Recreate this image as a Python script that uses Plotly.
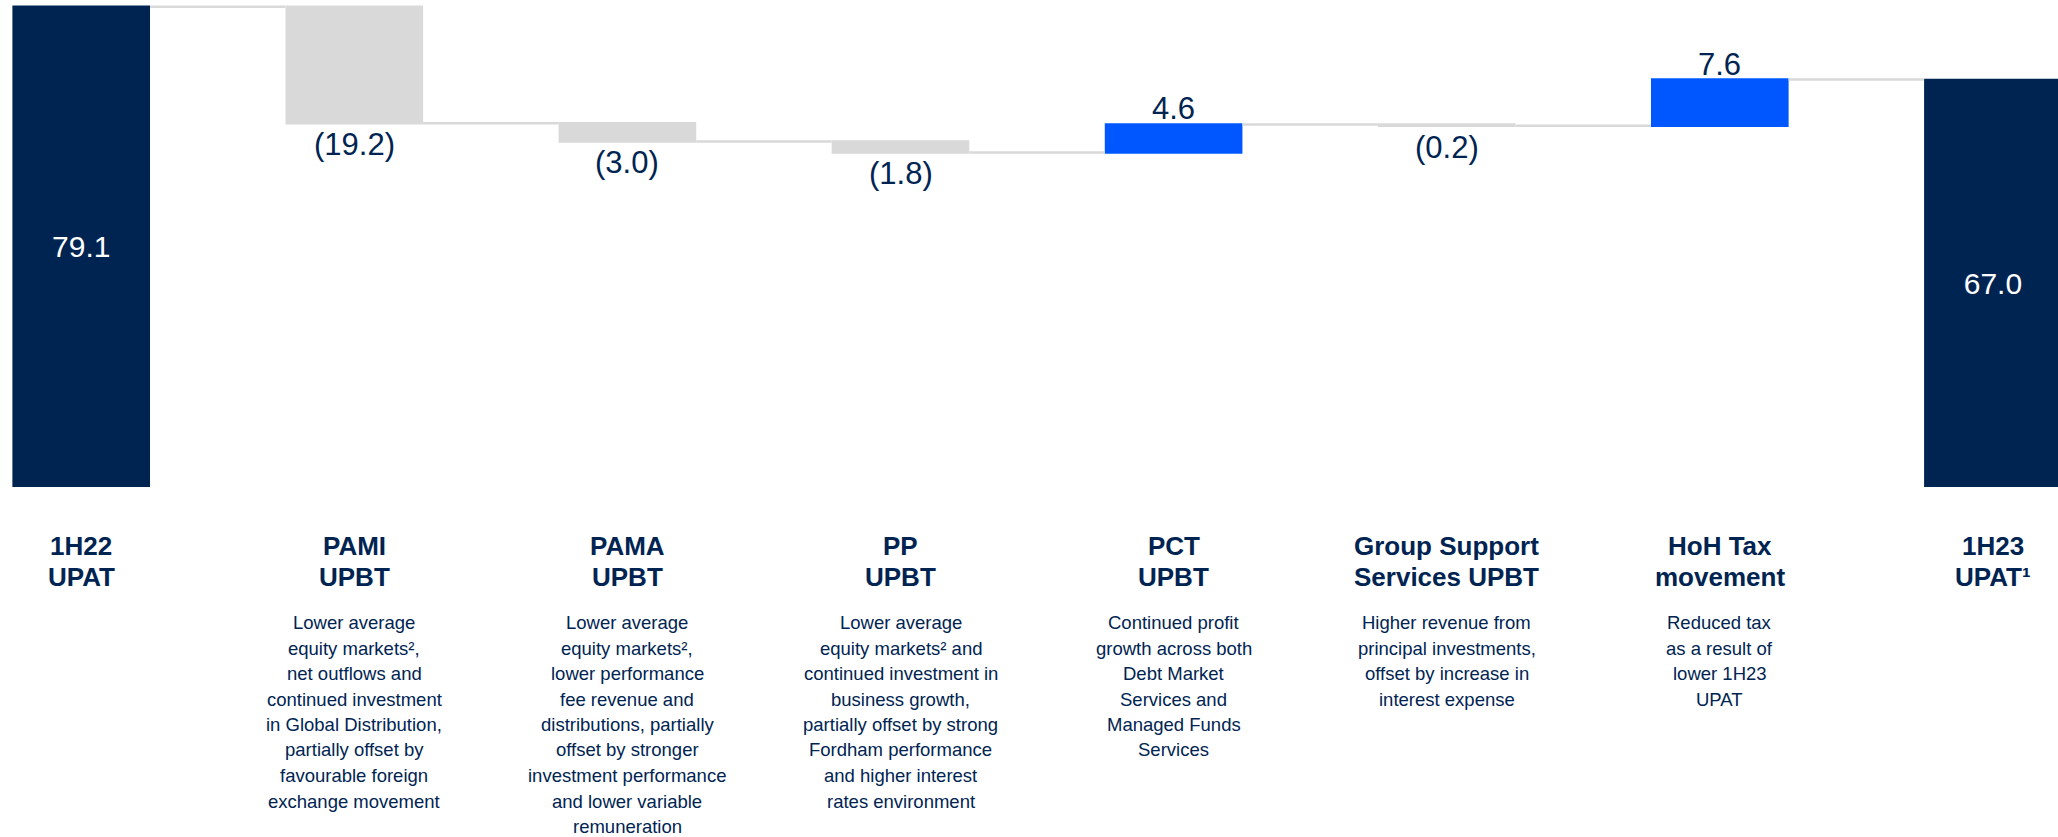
import plotly.graph_objects as go

# ---- data ----
categories = ["1H22 UPAT", "PAMI UPBT", "PAMA UPBT", "PP UPBT", "PCT UPBT",
              "Group Support Services UPBT", "HoH Tax movement", "1H23 UPAT"]
values = [79.1, -19.2, -3.0, -1.8, 4.6, -0.2, 7.6, 67.0]
measures = ["absolute", "relative", "relative", "relative", "relative",
            "relative", "relative", "absolute"]

label_lines = [
    ["1H22", "UPAT"],
    ["PAMI", "UPBT"],
    ["PAMA", "UPBT"],
    ["PP", "UPBT"],
    ["PCT", "UPBT"],
    ["Group Support", "Services UPBT"],
    ["HoH Tax", "movement"],
    ["1H23", "UPAT¹"],
]

desc_lines = [
    [],
    ["Lower average", "equity markets²,", "net outflows and", "continued investment",
     "in Global Distribution,", "partially offset by", "favourable foreign",
     "exchange movement"],
    ["Lower average", "equity markets²,", "lower performance", "fee revenue and",
     "distributions, partially", "offset by stronger", "investment performance",
     "and lower variable", "remuneration"],
    ["Lower average", "equity markets² and", "continued investment in",
     "business growth,", "partially offset by strong", "Fordham performance",
     "and higher interest", "rates environment"],
    ["Continued profit", "growth across both", "Debt Market", "Services and",
     "Managed Funds", "Services"],
    ["Higher revenue from", "principal investments,", "offset by increase in",
     "interest expense"],
    ["Reduced tax", "as a result of", "lower 1H23", "UPAT"],
    [],
]

NAVY = "#002452"
BLUE = "#0057FF"
GREY = "#D9D9D9"
FONT = "Arial, Liberation Sans, sans-serif"

W, H = 2058, 837
PLOT_H = 487                  # pixel position of the zero line
PX_PER_UNIT = 6.073
STEP = 273.1
X0 = 81.2                     # centre of first bar in pixels


def fmt(v):
    return f"({abs(v):.1f})" if v < 0 else f"{v:.1f}"


texts = [fmt(v) if m == "absolute" else "" for v, m in zip(values, measures)]
textpos = ["inside" if m == "absolute" else "none" for m in measures]

fig = go.Figure(go.Waterfall(
    x=list(range(len(categories))),
    y=values,
    measure=measures,
    text=texts,
    textposition=textpos,
    insidetextanchor="middle",
    insidetextfont=dict(family=FONT, size=30, color="white"),
    constraintext="none",
    cliponaxis=False,
    width=0.504,
    increasing=dict(marker=dict(color=BLUE)),
    decreasing=dict(marker=dict(color=GREY)),
    totals=dict(marker=dict(color=NAVY)),
    connector=dict(line=dict(color=GREY, width=2.5), mode="between"),
    hovertext=categories,
))


def paper_y(py):
    return (PLOT_H - py) / PLOT_H


annotations = []

# value labels for the relative steps, placed at the end of each step
running = 0.0
for i, (v, m) in enumerate(zip(values, measures)):
    if m == "absolute":
        running = v
        continue
    running += v
    if v < 0:
        annotations.append(dict(
            x=i, xref="x", y=running, yref="y", text=fmt(v), showarrow=False,
            xanchor="center", yanchor="top", yshift=-2,
            font=dict(family=FONT, size=31, color=NAVY)))
    else:
        annotations.append(dict(
            x=i, xref="x", y=running, yref="y", text=fmt(v), showarrow=False,
            xanchor="center", yanchor="bottom", yshift=-4,
            font=dict(family=FONT, size=31, color=NAVY)))

for i, lines in enumerate(label_lines):
    for k, line in enumerate(lines):
        annotations.append(dict(
            x=i, xref="x", y=paper_y(546 + 31 * k), yref="paper",
            text=f"<b>{line}</b>", showarrow=False, xanchor="center", yanchor="middle",
            font=dict(family=FONT, size=26, color=NAVY),
        ))
for i, lines in enumerate(desc_lines):
    for k, line in enumerate(lines):
        annotations.append(dict(
            x=i, xref="x", y=paper_y(622.5 + 25.5 * k), yref="paper",
            text=line, showarrow=False, xanchor="center", yanchor="middle",
            font=dict(family=FONT, size=18.5, color=NAVY),
        ))

fig.update_layout(
    width=W, height=H,
    margin=dict(l=0, r=0, t=0, b=H - PLOT_H, pad=0),
    paper_bgcolor="white", plot_bgcolor="white",
    showlegend=False,
    xaxis=dict(range=[-X0 / STEP, (W - X0) / STEP], showgrid=False, zeroline=False,
               showticklabels=False, showline=False, ticks=""),
    yaxis=dict(range=[0, PLOT_H / PX_PER_UNIT], showgrid=False, zeroline=False,
               showticklabels=False, showline=False, ticks=""),
    annotations=annotations,
    font=dict(family=FONT, color=NAVY),
)

fig.write_html("out.html", config={"displayModeBar": False},
               post_script="document.body.style.margin='0px';")
